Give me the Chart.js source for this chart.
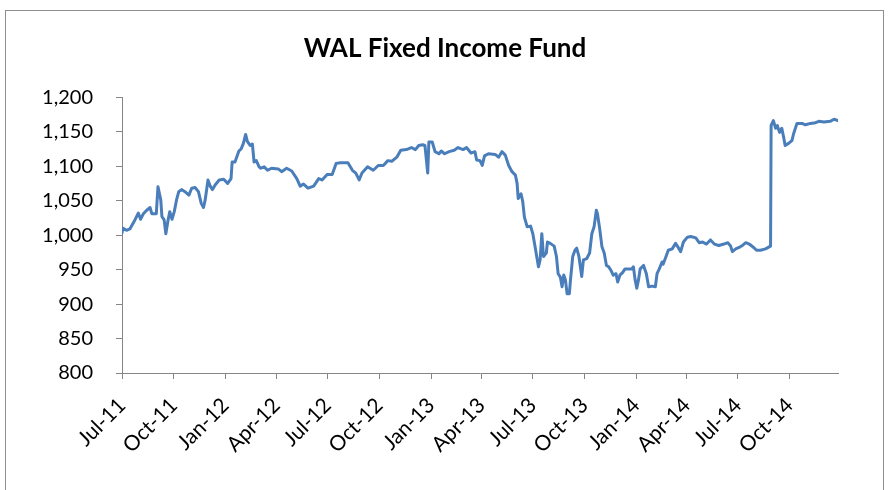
<!DOCTYPE html>
<html>
<head>
<meta charset="utf-8">
<script src="https://cdn.jsdelivr.net/npm/chart.js@4.4.1/dist/chart.umd.min.js"></script>
<style>
  html, body { margin: 0; padding: 0; background: #fff; overflow: hidden; }
  #wrap { position: relative; width: 890px; height: 490px; }
  #frame {
    position: absolute; left: 5px; top: 10px; width: 879px; height: 490px;
    border: 1px solid #8e8e8e; box-sizing: border-box; pointer-events: none;
  }
</style>
</head>
<body>
<div id="wrap">
  <canvas id="chart"></canvas>
  <div id="frame"></div>
</div>
<script>
// Fund value
const dates = [
  '2011-07-01','2011-07-03','2011-07-09','2011-07-15','2011-07-24','2011-07-30','2011-08-03','2011-08-08',
  '2011-08-14','2011-08-20','2011-08-23','2011-08-31','2011-09-03','2011-09-08','2011-09-10','2011-09-14',
  '2011-09-17','2011-09-21','2011-09-24','2011-09-28','2011-10-02','2011-10-06','2011-10-10','2011-10-15',
  '2011-10-21','2011-10-28','2011-11-02','2011-11-08','2011-11-14','2011-11-19','2011-11-23','2011-11-26',
  '2011-12-01','2011-12-05','2011-12-09','2011-12-14','2011-12-21','2011-12-29','2012-01-05','2012-01-11',
  '2012-01-13','2012-01-18','2012-01-25','2012-01-29','2012-02-02','2012-02-06','2012-02-09','2012-02-14',
  '2012-02-18','2012-02-21','2012-02-25','2012-03-01','2012-03-04','2012-03-10','2012-03-16','2012-03-23',
  '2012-04-04','2012-04-10','2012-04-19','2012-04-28','2012-05-07','2012-05-13','2012-05-19','2012-05-27',
  '2012-06-06','2012-06-15','2012-06-21','2012-06-30','2012-07-09','2012-07-16','2012-07-24','2012-08-06',
  '2012-08-14','2012-08-20','2012-08-26','2012-08-31','2012-09-10','2012-09-20','2012-09-29','2012-10-08',
  '2012-10-16','2012-10-23','2012-11-01','2012-11-08','2012-11-18','2012-11-27','2012-12-04','2012-12-10',
  '2012-12-17','2012-12-21','2012-12-26','2012-12-28','2013-01-03','2013-01-08','2013-01-15','2013-01-19',
  '2013-01-25','2013-02-02','2013-02-11','2013-02-18','2013-02-27','2013-03-05','2013-03-13','2013-03-20',
  '2013-03-23','2013-03-29','2013-04-02','2013-04-06','2013-04-13','2013-04-25','2013-05-01','2013-05-07',
  '2013-05-13','2013-05-19','2013-05-25','2013-05-31','2013-06-03','2013-06-05','2013-06-10','2013-06-13',
  '2013-06-16','2013-06-21','2013-06-27','2013-07-01','2013-07-05','2013-07-11','2013-07-14','2013-07-17',
  '2013-07-20','2013-07-25','2013-07-27','2013-08-01','2013-08-08','2013-08-12','2013-08-15','2013-08-19',
  '2013-08-22','2013-08-25','2013-08-28','2013-08-31','2013-09-04','2013-09-06','2013-09-10','2013-09-14',
  '2013-09-17','2013-09-21','2013-09-26','2013-09-29','2013-10-05','2013-10-10','2013-10-14','2013-10-18',
  '2013-10-22','2013-10-24','2013-10-28','2013-11-01','2013-11-05','2013-11-09','2013-11-13','2013-11-17',
  '2013-11-21','2013-11-26','2013-11-29','2013-12-03','2013-12-08','2013-12-12','2013-12-18','2013-12-24',
  '2013-12-27','2013-12-30','2014-01-02','2014-01-05','2014-01-08','2014-01-14','2014-01-19','2014-01-23',
  '2014-01-29','2014-02-04','2014-02-07','2014-02-11','2014-02-16','2014-02-18','2014-02-23','2014-02-27',
  '2014-03-06','2014-03-12','2014-03-16','2014-03-21','2014-03-26','2014-04-02','2014-04-08','2014-04-17',
  '2014-04-23','2014-04-29','2014-05-06','2014-05-13','2014-05-20','2014-05-28','2014-06-06','2014-06-13',
  '2014-06-18','2014-06-21','2014-06-27','2014-07-05','2014-07-09','2014-07-15','2014-07-21','2014-07-29',
  '2014-08-03','2014-08-10','2014-08-19','2014-08-28','2014-08-29','2014-09-02','2014-09-06','2014-09-09',
  '2014-09-13','2014-09-17','2014-09-20','2014-09-23','2014-09-29','2014-10-05','2014-10-08','2014-10-14',
  '2014-10-23','2014-10-29','2014-11-07','2014-11-16','2014-11-22','2014-12-01','2014-12-12','2014-12-19',
  '2014-12-26'
];
const values = [
  1003,1010,1007,1009,1022,1032,1023,1031,
  1036,1040,1031,1031,1070,1051,1027,1022,
  1002,1022,1034,1023,1034,1051,1063,1066,
  1063,1058,1068,1069,1063,1046,1040,1051,
  1080,1071,1066,1073,1080,1081,1075,1082,
  1106,1106,1122,1125,1133,1146,1136,1130,
  1132,1106,1108,1099,1097,1099,1094,1097,
  1096,1092,1097,1093,1082,1071,1074,1068,
  1071,1082,1080,1088,1088,1104,1105,1105,
  1094,1090,1080,1090,1099,1094,1101,1101,
  1108,1107,1113,1123,1124,1127,1124,1130,
  1131,1130,1090,1135,1135,1121,1118,1122,
  1118,1121,1123,1127,1124,1127,1119,1121,
  1109,1108,1101,1115,1118,1117,1113,1121,
  1116,1101,1092,1087,1075,1053,1060,1049,
  1026,1012,1013,1002,983,954,964,1002,
  969,974,990,988,984,969,944,939,
  925,942,935,915,915,935,969,978,
  981,969,940,964,966,974,1002,1012,
  1036,1031,1009,983,974,956,954,949,
  942,944,932,942,946,951,951,951,
  954,935,923,935,951,956,944,925,
  926,925,944,951,961,958,969,978,
  980,988,983,976,990,997,998,996,
  989,990,987,993,987,985,987,989,
  984,976,980,983,985,989,987,982,
  978,978,980,984,1159,1166,1155,1159,
  1149,1155,1143,1130,1133,1137,1147,1162,
  1162,1160,1162,1163,1165,1164,1165,1168,
  1166
];

const tickDates = [
  '2011-07-01','2011-10-01','2012-01-01','2012-04-01','2012-07-01','2012-10-01','2013-01-01',
  '2013-04-01','2013-07-01','2013-10-01','2014-01-01','2014-04-01','2014-07-01','2014-10-01'
];
const tickLabels = [
  'Jul-11','Oct-11','Jan-12','Apr-12','Jul-12','Oct-12','Jan-13',
  'Apr-13','Jul-13','Oct-13','Jan-14','Apr-14','Jul-14','Oct-14'
];

const FONT = 'Lato, "Open Sans", sans-serif';
const AXIS_GREY = '#868686';
const DAY = 86400000;
const t0 = Date.parse(dates[0]);
const toDay = s => (Date.parse(s) - t0) / DAY;

const points = dates.map((d, i) => ({ x: toDay(d), y: values[i] }));

new Chart(document.getElementById('chart'), {
  type: 'line',
  data: {
    datasets: [{
      label: 'WAL Fixed Income Fund',
      data: points,
      borderColor: '#4A7EBB',
      borderWidth: 3,
      borderJoinStyle: 'round',
      borderCapStyle: 'round',
      pointRadius: 0,
      tension: 0,
      fill: false
    }]
  },
  options: {
    responsive: true,
    maintainAspectRatio: false,
    animation: false,
    layout: { padding: 0 },
    plugins: {
      legend: { display: false },
      tooltip: { enabled: false },
      title: {
        display: true,
        text: 'WAL Fixed Income Fund',
        color: '#000',
        font: { family: FONT, size: 26, weight: 'bold' },
        padding: { top: 33, bottom: 33 }
      }
    },
    scales: {
      x: {
        type: 'linear',
        min: 0,
        max: toDay(dates[dates.length - 1]),
        afterBuildTicks: scale => {
          scale.ticks = tickDates.map(d => ({ value: toDay(d) }));
        },
        afterFit: scale => {
          // plot ends at x=838, title stays centred on the whole canvas
          scale.height = 117;
          scale.paddingLeft = 0;
          scale.paddingRight = 52;
        },
        border: { color: AXIS_GREY, width: 1 },
        grid: { drawOnChartArea: false, drawTicks: true, tickLength: 6, color: AXIS_GREY },
        ticks: {
          autoSkip: false,
          minRotation: 45,
          maxRotation: 45,
          padding: 14,
          color: '#000',
          font: { family: FONT, size: 21 },
          callback: (v, i) => tickLabels[i]
        }
      },
      y: {
        min: 800,
        max: 1200,
        afterFit: scale => { scale.width = 122; },
        border: { color: AXIS_GREY, width: 1 },
        grid: { drawOnChartArea: false, drawTicks: true, tickLength: 6, color: AXIS_GREY },
        ticks: {
          stepSize: 50,
          padding: 23,
          color: '#000',
          font: { family: FONT, size: 20 },
          callback: v => v.toLocaleString('en-US')
        }
      }
    }
  }
});
</script>
</body>
</html>
